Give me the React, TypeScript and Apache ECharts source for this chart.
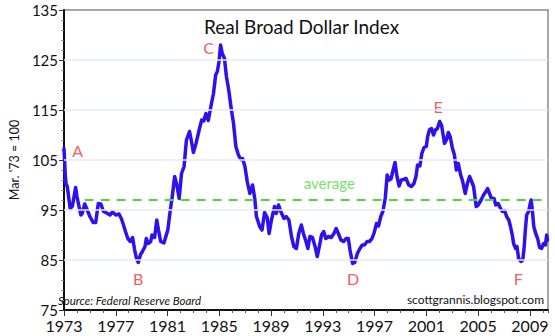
import React, { useEffect, useRef } from "react";
import * as echarts from "echarts";

const years: number[] = [
  1973.0, 1973.1, 1973.15, 1973.25, 1973.48, 1973.65, 1973.9, 1974.0, 1974.3, 1974.4, 1974.6, 1974.8,
  1975.0, 1975.25, 1975.45, 1975.65, 1975.85, 1976.05, 1976.3, 1976.55, 1976.75, 1977.0, 1977.25, 1977.43,
  1977.6, 1977.75, 1977.93, 1978.13, 1978.3, 1978.46, 1978.6, 1978.74, 1978.9, 1979.06, 1979.26, 1979.36,
  1979.5, 1979.7, 1979.8, 1980.0, 1980.17, 1980.3, 1980.47, 1980.72, 1980.87, 1981.02, 1981.2, 1981.38,
  1981.55, 1981.72, 1981.9, 1982.08, 1982.28, 1982.46, 1982.7, 1982.83, 1983.0, 1983.2, 1983.47, 1983.64,
  1983.8, 1983.97, 1984.15, 1984.35, 1984.55, 1984.72, 1984.85, 1984.98, 1985.1, 1985.23, 1985.4, 1985.55,
  1985.73, 1985.9, 1986.1, 1986.28, 1986.48, 1986.66, 1986.8, 1986.98, 1987.16, 1987.36, 1987.57, 1987.74,
  1987.87, 1988.12, 1988.3, 1988.5, 1988.7, 1988.85, 1989.03, 1989.27, 1989.4, 1989.58, 1989.75, 1990.0,
  1990.17, 1990.38, 1990.58, 1990.76, 1990.96, 1991.14, 1991.34, 1991.5, 1991.7, 1991.85, 1992.0, 1992.2,
  1992.4, 1992.57, 1992.7, 1992.9, 1993.07, 1993.23, 1993.45, 1993.65, 1993.86, 1994.03, 1994.2, 1994.4,
  1994.6, 1994.8, 1994.97, 1995.1, 1995.3, 1995.46, 1995.67, 1995.87, 1996.05, 1996.22, 1996.42, 1996.6,
  1996.8, 1996.97, 1997.15, 1997.3, 1997.48, 1997.65, 1997.83, 1997.97, 1998.13, 1998.28, 1998.43, 1998.58,
  1998.73, 1998.9, 1999.06, 1999.23, 1999.43, 1999.64, 1999.84, 2000.04, 2000.2, 2000.32, 2000.5, 2000.65,
  2000.82, 2001.0, 2001.1, 2001.25, 2001.4, 2001.55, 2001.7, 2001.85, 2002.03, 2002.17, 2002.28, 2002.4,
  2002.55, 2002.7, 2002.85, 2003.0, 2003.17, 2003.32, 2003.47, 2003.65, 2003.8, 2004.0, 2004.17, 2004.34,
  2004.5, 2004.65, 2004.85, 2005.0, 2005.23, 2005.42, 2005.6, 2005.73, 2005.88, 2006.03, 2006.23, 2006.36,
  2006.55, 2006.74, 2006.87, 2007.05, 2007.2, 2007.37, 2007.5, 2007.64, 2007.74, 2007.9, 2008.0, 2008.13,
  2008.3, 2008.45, 2008.55, 2008.65, 2008.75, 2008.9, 2009.0, 2009.1, 2009.2, 2009.3, 2009.45, 2009.6,
  2009.75, 2009.9, 2010.06, 2010.2, 2010.3, 2010.36,
];

const dollarIndex: number[] = [
  107.3, 102, 100.3, 99.7, 95.3, 95.8, 99.5, 97.7, 94, 94.3, 96.2, 95,
  93.7, 92.5, 92.5, 96.3, 96.2, 94.7, 94.4, 94, 94.6, 94, 94.2, 93.3,
  92, 90.7, 89.3, 88.7, 89.5, 87, 85.3, 84.5, 86, 86.7, 87.7, 89.3,
  88.3, 88.7, 90, 89.5, 93, 91, 88.7, 88.4, 89.7, 91, 94.7, 98,
  101.7, 100, 97.3, 102.3, 103.7, 109, 110.7, 109, 106.5, 108.3, 111.3, 113,
  112.8, 114.3, 112.9, 115.7, 118.3, 122, 122.7, 124.7, 128, 126.3, 125.3, 121.7,
  119, 115.7, 112.3, 107.7, 106, 105.1, 105.3, 103.7, 100.7, 98.3, 100, 97.3,
  93.7, 91.7, 91, 94.5, 93.5, 90.3, 93, 95.7, 94.3, 96, 94.7, 93.3,
  93.7, 93, 89.7, 87.7, 87.3, 90.3, 92, 90.3, 88.7, 87.3, 89.7, 89.5,
  87.7, 85.7, 87.3, 90, 90.7, 89.3, 89.7, 89.5, 90.3, 91.3, 90.3, 89,
  88.7, 89.3, 89.3, 87, 84.3, 84.5, 86.3, 87.3, 88, 88, 88.7, 88.7,
  89.3, 90.5, 92.3, 91.8, 93.7, 94.8, 97.5, 102, 101, 101.3, 103, 104.5,
  101.7, 99.8, 101, 101.1, 101.3, 100, 99.7, 100.3, 101.7, 104, 103.8, 106.3,
  107.5, 107.7, 109.7, 111.1, 111.3, 110, 111, 111.3, 112.7, 112, 110.3, 108.3,
  109, 110.5, 109.6, 107.5, 106, 103, 104.3, 102, 100.8, 98.3, 100.3, 101.7,
  100.7, 99.7, 95.7, 96, 97, 98, 98.7, 99.3, 98.3, 97.3, 97.3, 96,
  96.3, 95.3, 94.7, 94.9, 93.7, 93, 91.7, 90, 88.3, 87.3, 87.7, 85.3,
  84.7, 85, 87.3, 91, 94, 94.7, 96, 97, 94.7, 91.7, 90.3, 89.3,
  87.5, 87.3, 88.3, 88, 90, 89,
];

const averageValue = 97;
const averageStart = 1974.6;
const averageEnd = 2010.4;
const xTickLabels: number[] = [1973, 1977, 1981, 1985, 1989, 1993, 1997, 2001, 2005, 2009];
const yTickLabels: number[] = [75, 85, 95, 105, 115, 125, 135];
const yGridValues: number[] = [85, 95, 105, 115, 125];
const yMinorTicks: number[] = [77, 79, 81, 83, 87, 89, 91, 93, 97, 99, 101, 103, 107, 109, 111, 113, 117, 119, 121, 123, 127, 129, 131, 133];

const pointNames: string[] = ["A", "B", "C", "D", "E", "F"];
const pointYears: number[] = [1974.06, 1978.74, 1984.17, 1995.34, 2001.9, 2008.1];
const pointValues: number[] = [107, 81.4, 127.6, 81.4, 115.8, 81.4];

const FONT = "Lato, 'DejaVu Sans', sans-serif";

export default function App() {
  const ref = useRef<HTMLDivElement>(null);
  useEffect(() => {
    if (!ref.current) return;
    const chart = echarts.init(ref.current, null, { renderer: "svg" });
    const lineData = years.map((y, i) => [y, dollarIndex[i]]);
    const pointData = pointNames.map((n, i) => [pointYears[i], pointValues[i], n]);
    chart.setOption({
      animation: false,
      backgroundColor: "#ffffff",
      textStyle: { fontFamily: FONT },
      title: {
        text: "Real Broad Dollar Index",
        left: 199,
        top: 12,
        textStyle: { fontFamily: FONT, fontSize: 19, fontWeight: "normal", color: "#111" },
      },
      grid: {
        left: 53,
        right: 7,
        top: 10,
        bottom: 26,
        show: true,
        borderColor: "#8c8c8c",
        borderWidth: 1.5,
        backgroundColor: "transparent",
      },
      xAxis: [
        {
          type: "value",
          min: 1973,
          max: 2010.4,
          interval: 1,
          axisLine: { show: true, lineStyle: { color: "#111", width: 2 } },
          axisTick: { show: true, length: 3, lineStyle: { color: "#555", width: 1 } },
          axisLabel: {
            customValues: xTickLabels,
            formatter: (v: number) => String(Math.round(v)),
            fontSize: 16,
            lineHeight: 14,
            color: "#111",
            margin: 8,
            fontFamily: FONT,
          },
          splitLine: { show: false },
        },
        {
          type: "value",
          min: 1973,
          max: 2010.4,
          interval: 1,
          position: "bottom",
          axisLine: { show: false },
          axisTick: { show: true, customValues: xTickLabels, length: 6, lineStyle: { color: "#333", width: 1 } },
          axisLabel: { show: false },
          splitLine: { show: false },
        },
      ],
      yAxis: [
        {
          type: "value",
          min: 75,
          max: 135,
          name: "Mar. '73 = 100",
          nameLocation: "middle",
          nameRotate: 90,
          nameGap: 43,
          nameTextStyle: { fontFamily: FONT, fontSize: 12.5, color: "#111" },
          axisLine: { show: true, lineStyle: { color: "#111", width: 2 } },
          axisTick: { show: true, customValues: yTickLabels, length: 5, lineStyle: { color: "#333", width: 1 } },
          axisLabel: {
            customValues: yTickLabels,
            fontSize: 15,
            lineHeight: 12,
            padding: [0, 0, 3, 0],
            color: "#111",
            margin: 6,
            fontFamily: FONT,
          },
          splitLine: { show: false },
        },
        {
          type: "value",
          min: 75,
          max: 135,
          position: "left",
          axisLine: { show: false },
          axisTick: { show: true, customValues: yMinorTicks, length: 2.5, lineStyle: { color: "#777", width: 1 } },
          axisLabel: { show: false },
          splitLine: { show: false },
        },
      ],
      series: [
        {
          type: "line",
          data: [],
          z: 1,
          silent: true,
          markLine: {
            silent: true,
            symbol: "none",
            label: { show: false },
            lineStyle: { color: "#e3ebf5", width: 1.5, type: "solid" },
            data: yGridValues.map((v) => ({ yAxis: v })),
          },
        },
        {
          type: "line",
          data: [],
          z: 2,
          silent: true,
          markLine: {
            silent: true,
            symbol: "none",
            label: { show: false },
            lineStyle: { color: "#4cd93a", width: 2, type: [9, 7] },
            data: [[{ coord: [averageStart, averageValue] }, { coord: [averageEnd, averageValue] }]],
          },
        },
        {
          type: "line",
          data: lineData,
          z: 3,
          showSymbol: false,
          symbol: "none",
          lineStyle: { color: "#2d12ee", width: 3.5, join: "round", cap: "round" },
        },
        {
          type: "scatter",
          data: pointData,
          symbolSize: 0,
          z: 4,
          label: {
            show: true,
            position: "inside",
            formatter: (p: any) => p.data[2],
            color: "#e8332e",
            fontSize: 16,
            fontFamily: FONT,
          },
        },
        {
          type: "scatter",
          data: [[1993.5, 100.4, "average"]],
          symbolSize: 0,
          z: 4,
          label: {
            show: true,
            position: "inside",
            formatter: (p: any) => p.data[2],
            color: "#4cd93a",
            fontSize: 15,
            fontFamily: FONT,
          },
        },
      ],
      graphic: [
        {
          type: "text",
          left: 58,
          top: 294,
          style: { text: "Source: Federal Reserve Board", fontSize: 11.5, fontStyle: "italic", fill: "#111", fontFamily: FONT },
        },
        {
          type: "text",
          right: 11,
          top: 293,
          style: { text: "scottgrannis.blogspot.com", fontSize: 12, fill: "#111", fontFamily: FONT },
        },
      ],
    });
    return () => chart.dispose();
  }, []);
  return <div ref={ref} style={{ position: "fixed", left: 0, top: 0, width: 555, height: 336 }} />;
}
